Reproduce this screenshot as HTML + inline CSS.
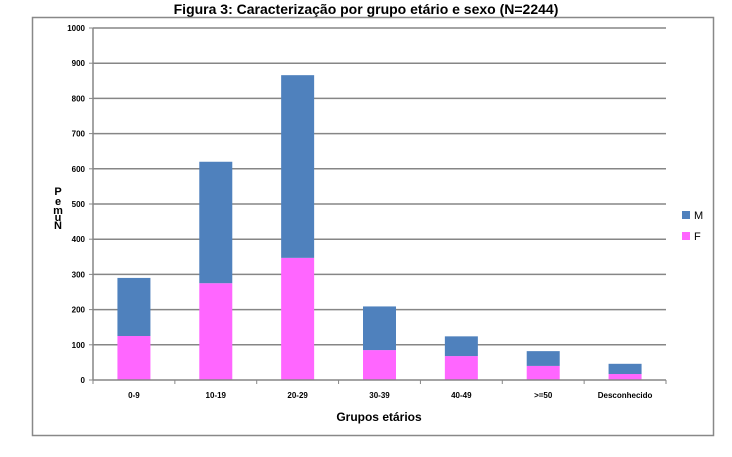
<!DOCTYPE html>
<html><head><meta charset="utf-8"><style>
body{margin:0;background:#fff;}
svg{display:block;font-family:"Liberation Sans",sans-serif;}
</style></head><body>
<svg id="chart" width="732" height="457" viewBox="0 0 732 457">
<text x="366" y="14" text-anchor="middle" font-size="14" font-weight="bold" fill="#000">Figura 3: Caracterização por grupo etário e sexo (N=2244)</text>
<rect x="32.5" y="17.5" width="681" height="418" fill="none" stroke="#888" stroke-width="1.5"/>
<g id="grid"></g><g id="bars"></g><g id="axes"></g>
<g font-size="11" font-weight="bold" fill="#000">
<text x="58" y="195" text-anchor="middle">P</text>
<text x="58" y="205" text-anchor="middle">e</text>
<text x="58" y="214" text-anchor="middle">m</text>
<text x="58" y="221" text-anchor="middle">u</text>
<text x="58" y="229" text-anchor="middle">N</text>
</g>
<text x="379" y="421" text-anchor="middle" font-size="12" font-weight="bold" fill="#000">Grupos etários</text>
<g>
<rect x="682" y="211" width="8" height="8" fill="#4f81bd"/>
<text x="694" y="219" font-size="11" fill="#000">M</text>
<rect x="682" y="232" width="8" height="8" fill="#ff66ff"/>
<text x="694" y="240" font-size="11" fill="#000">F</text>
</g>
</svg>
<script>
const categories=["0-9","10-19","20-29","30-39","40-49",">=50","Desconhecido"];
const femaleValues=[125,275,347,85,68,40,17];
const maleValues=[165,345,519,124,56,42,29];
const yTicks=[0,100,200,300,400,500,600,700,800,900,1000];
const NS="http://www.w3.org/2000/svg";
const X0=93,X1=666,Y0=380,Y1=28,YMAX=1000;
const cw=(X1-X0)/categories.length,bw=33;
const y=v=>Y0-(v/YMAX)*(Y0-Y1);
const xc=i=>X0+cw*(i+0.5);
function mk(t,a,p){const e=document.createElementNS(NS,t);for(const k in a)e.setAttribute(k,a[k]);p.appendChild(e);return e;}
const grid=document.getElementById('grid'),bars=document.getElementById('bars'),axes=document.getElementById('axes');
yTicks.forEach(v=>{
 if(v>0){const l=mk('line',{x1:X0,x2:X1,y1:y(v),y2:y(v),stroke:'#868686','stroke-width':1.5},grid);
 
 }
 const tk=mk('line',{x1:X0-4,x2:X0,y1:y(v),y2:y(v),stroke:'#868686'},axes);
 
 
 const t=mk('text',{x:X0-8,y:y(v)+3,'text-anchor':'end','font-size':8,'font-weight':'bold',fill:'#000'},axes);
 t.textContent=v;
 
 
});
categories.forEach((c,i)=>{
 const f=femaleValues[i],m=maleValues[i];
 const rf=mk('rect',{x:xc(i)-bw/2,y:y(f),width:bw,height:Y0-y(f),fill:'#ff66ff'},bars);
 
 
 const rm=mk('rect',{x:xc(i)-bw/2,y:y(f+m),width:bw,height:y(f)-y(f+m),fill:'#4f81bd'},bars);
 
 
 const t=mk('text',{x:xc(i),y:398,'text-anchor':'middle','font-size':8,'font-weight':'bold',fill:'#000'},axes);
 t.textContent=c;
 
 
});
for(let i=0;i<=categories.length;i++){
 const tk=mk('line',{x1:X0+cw*i,x2:X0+cw*i,y1:Y0,y2:Y0+4,stroke:'#868686'},axes);
 
 
}
const ya=mk('line',{x1:X0,x2:X0,y1:Y1,y2:Y0,stroke:'#868686','stroke-width':1.5},axes);


const xa=mk('line',{x1:X0,x2:X1,y1:Y0,y2:Y0,stroke:'#868686','stroke-width':1.5},axes);


</script>
</body></html>
